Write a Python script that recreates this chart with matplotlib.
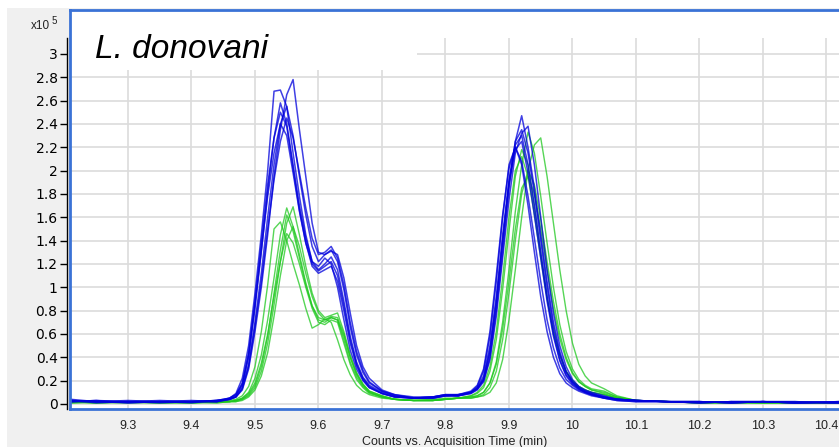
import matplotlib
matplotlib.use("Agg")
import matplotlib.pyplot as plt
from matplotlib.patches import Rectangle
from matplotlib.lines import Line2D

# ---------------- data ----------------
# acquisition time grid (min), split into segments
t_base = [9.21, 9.25, 9.30, 9.35, 9.40, 9.44]
t_peak1 = [9.46, 9.47, 9.48, 9.49, 9.50, 9.51, 9.52, 9.53, 9.54, 9.55, 9.56, 9.57,
           9.58, 9.59, 9.60, 9.61, 9.62, 9.63, 9.64, 9.65, 9.66, 9.67, 9.68]
t_valley = [9.70, 9.72, 9.75, 9.78, 9.80, 9.82]
t_peak2 = [9.84, 9.85, 9.86, 9.87, 9.88, 9.89, 9.90, 9.91, 9.92, 9.93, 9.94, 9.95,
           9.96, 9.97, 9.98, 9.99, 10.00, 10.01, 10.02, 10.03]
t_tail = [10.05, 10.07, 10.10, 10.15, 10.20, 10.25, 10.30, 10.35, 10.42]
time_min = t_base + t_peak1 + t_valley + t_peak2 + t_tail

# counts (x10^5), blue traces
blue_1 = ([0.04, 0.02, 0.01, 0.02, 0.02, 0.03]
          + [0.04, 0.06, 0.12, 0.30, 0.62, 1.00, 1.45, 1.95, 2.35, 2.65, 2.78, 2.35, 1.95, 1.55, 1.30, 1.28, 1.31, 1.28, 1.08, 0.78, 0.50, 0.32, 0.22]
          + [0.12, 0.08, 0.06, 0.06, 0.08, 0.08]
          + [0.10, 0.13, 0.20, 0.40, 0.80, 1.30, 1.85, 2.25, 2.47, 2.20, 1.85, 1.45, 1.05, 0.70, 0.45, 0.28, 0.19, 0.14, 0.11, 0.09]
          + [0.06, 0.04, 0.03, 0.02, 0.02, 0.01, 0.02, 0.02, 0.01])
blue_2 = ([0.03, 0.02, 0.02, 0.01, 0.02, 0.03]
          + [0.05, 0.09, 0.22, 0.50, 0.95, 1.45, 2.00, 2.68, 2.69, 2.55, 2.15, 1.78, 1.45, 1.22, 1.18, 1.25, 1.20, 1.00, 0.72, 0.46, 0.30, 0.20, 0.14]
          + [0.09, 0.06, 0.05, 0.05, 0.07, 0.07]
          + [0.10, 0.15, 0.28, 0.58, 1.05, 1.60, 2.05, 2.20, 2.05, 1.70, 1.30, 0.92, 0.62, 0.40, 0.26, 0.18, 0.14, 0.11, 0.09, 0.07]
          + [0.05, 0.04, 0.03, 0.02, 0.01, 0.02, 0.02, 0.01, 0.02])
blue_3 = ([0.02, 0.03, 0.01, 0.02, 0.03, 0.02]
          + [0.04, 0.07, 0.16, 0.40, 0.82, 1.30, 1.82, 2.28, 2.58, 2.40, 2.05, 1.70, 1.42, 1.22, 1.15, 1.20, 1.26, 1.15, 0.88, 0.58, 0.36, 0.23, 0.16]
          + [0.10, 0.07, 0.05, 0.06, 0.08, 0.07]
          + [0.09, 0.12, 0.19, 0.38, 0.75, 1.25, 1.75, 2.15, 2.32, 2.38, 2.05, 1.60, 1.15, 0.78, 0.50, 0.32, 0.21, 0.15, 0.12, 0.10]
          + [0.07, 0.04, 0.03, 0.02, 0.02, 0.01, 0.02, 0.01, 0.01])
blue_4 = ([0.03, 0.02, 0.02, 0.02, 0.01, 0.03]
          + [0.04, 0.06, 0.14, 0.34, 0.70, 1.12, 1.60, 2.05, 2.40, 2.55, 2.30, 1.95, 1.62, 1.35, 1.22, 1.28, 1.32, 1.22, 0.98, 0.66, 0.42, 0.27, 0.18]
          + [0.11, 0.07, 0.05, 0.06, 0.07, 0.08]
          + [0.11, 0.16, 0.30, 0.62, 1.10, 1.62, 2.02, 2.20, 2.08, 1.78, 1.42, 1.05, 0.72, 0.48, 0.31, 0.21, 0.16, 0.12, 0.10, 0.08]
          + [0.06, 0.04, 0.03, 0.02, 0.01, 0.02, 0.02, 0.01, 0.02])
blue_5 = ([0.02, 0.02, 0.03, 0.02, 0.02, 0.02]
          + [0.05, 0.08, 0.18, 0.44, 0.88, 1.38, 1.88, 2.28, 2.50, 2.38, 2.02, 1.66, 1.38, 1.20, 1.14, 1.18, 1.22, 1.10, 0.84, 0.55, 0.34, 0.22, 0.15]
          + [0.09, 0.06, 0.05, 0.05, 0.07, 0.07]
          + [0.10, 0.14, 0.24, 0.50, 0.92, 1.45, 1.92, 2.22, 2.30, 2.05, 1.70, 1.30, 0.92, 0.60, 0.38, 0.25, 0.18, 0.13, 0.10, 0.08]
          + [0.05, 0.03, 0.02, 0.02, 0.02, 0.01, 0.02, 0.01, 0.02])
blue_6 = ([0.03, 0.01, 0.02, 0.03, 0.02, 0.02]
          + [0.04, 0.06, 0.13, 0.32, 0.66, 1.05, 1.50, 1.92, 2.25, 2.45, 2.28, 1.98, 1.68, 1.42, 1.28, 1.30, 1.35, 1.25, 1.02, 0.70, 0.45, 0.29, 0.19]
          + [0.11, 0.08, 0.05, 0.06, 0.08, 0.08]
          + [0.10, 0.13, 0.21, 0.44, 0.85, 1.38, 1.90, 2.25, 2.35, 2.15, 1.80, 1.40, 1.00, 0.66, 0.42, 0.27, 0.19, 0.14, 0.11, 0.09]
          + [0.06, 0.04, 0.03, 0.02, 0.02, 0.01, 0.02, 0.02, 0.01])
blue_7 = ([0.02, 0.03, 0.02, 0.02, 0.02, 0.03]
          + [0.05, 0.08, 0.17, 0.42, 0.85, 1.32, 1.78, 2.15, 2.40, 2.30, 1.98, 1.65, 1.38, 1.18, 1.12, 1.15, 1.18, 1.05, 0.80, 0.52, 0.33, 0.21, 0.14]
          + [0.09, 0.06, 0.05, 0.05, 0.07, 0.07]
          + [0.09, 0.13, 0.22, 0.46, 0.88, 1.40, 1.88, 2.18, 2.25, 1.98, 1.62, 1.25, 0.88, 0.58, 0.37, 0.24, 0.17, 0.13, 0.10, 0.08]
          + [0.05, 0.03, 0.02, 0.02, 0.01, 0.02, 0.02, 0.01, 0.01])

# counts (x10^5), green traces
green_1 = ([0.02, 0.01, 0.01, 0.02, 0.01, 0.02]
           + [0.02, 0.03, 0.04, 0.07, 0.14, 0.28, 0.52, 0.85, 1.22, 1.55, 1.69, 1.45, 1.18, 0.95, 0.80, 0.74, 0.76, 0.78, 0.62, 0.42, 0.27, 0.17, 0.11]
           + [0.07, 0.04, 0.03, 0.03, 0.04, 0.05]
           + [0.05, 0.06, 0.07, 0.10, 0.18, 0.38, 0.72, 1.15, 1.60, 2.00, 2.22, 2.28, 1.95, 1.55, 1.15, 0.80, 0.52, 0.34, 0.24, 0.18]
           + [0.13, 0.07, 0.03, 0.02, 0.01, 0.01, 0.01, 0.01, 0.01])
green_2 = ([0.01, 0.02, 0.01, 0.01, 0.02, 0.02]
           + [0.02, 0.03, 0.05, 0.10, 0.22, 0.42, 0.72, 1.08, 1.45, 1.68, 1.52, 1.28, 1.04, 0.84, 0.72, 0.70, 0.74, 0.72, 0.55, 0.36, 0.23, 0.15, 0.10]
           + [0.06, 0.04, 0.03, 0.04, 0.05, 0.05]
           + [0.06, 0.07, 0.10, 0.18, 0.36, 0.70, 1.15, 1.65, 2.05, 2.33, 2.15, 1.78, 1.38, 1.00, 0.68, 0.45, 0.30, 0.21, 0.16, 0.13]
           + [0.11, 0.06, 0.03, 0.02, 0.02, 0.01, 0.01, 0.02, 0.01])
green_3 = ([0.02, 0.01, 0.02, 0.01, 0.01, 0.02]
           + [0.03, 0.04, 0.07, 0.15, 0.32, 0.62, 1.02, 1.50, 1.56, 1.40, 1.20, 1.02, 0.82, 0.65, 0.68, 0.73, 0.70, 0.55, 0.38, 0.25, 0.16, 0.11, 0.08]
           + [0.05, 0.04, 0.03, 0.03, 0.04, 0.05]
           + [0.07, 0.09, 0.14, 0.28, 0.55, 0.98, 1.48, 1.95, 2.18, 2.05, 1.70, 1.30, 0.92, 0.62, 0.42, 0.28, 0.20, 0.15, 0.12, 0.10]
           + [0.08, 0.05, 0.03, 0.02, 0.01, 0.02, 0.01, 0.01, 0.01])
green_4 = ([0.01, 0.02, 0.02, 0.01, 0.01, 0.02]
           + [0.02, 0.03, 0.05, 0.09, 0.18, 0.35, 0.60, 0.92, 1.22, 1.46, 1.38, 1.20, 1.00, 0.82, 0.70, 0.68, 0.72, 0.70, 0.52, 0.34, 0.21, 0.14, 0.09]
           + [0.06, 0.04, 0.03, 0.03, 0.04, 0.05]
           + [0.07, 0.10, 0.16, 0.32, 0.62, 1.08, 1.60, 2.00, 2.12, 1.95, 1.62, 1.25, 0.90, 0.62, 0.42, 0.28, 0.20, 0.15, 0.12, 0.10]
           + [0.08, 0.05, 0.03, 0.02, 0.01, 0.01, 0.02, 0.01, 0.01])
green_5 = ([0.02, 0.01, 0.02, 0.02, 0.01, 0.01]
           + [0.02, 0.02, 0.04, 0.08, 0.16, 0.32, 0.58, 0.95, 1.32, 1.62, 1.48, 1.25, 1.02, 0.84, 0.74, 0.72, 0.75, 0.74, 0.60, 0.40, 0.25, 0.16, 0.10]
           + [0.06, 0.04, 0.03, 0.03, 0.04, 0.05]
           + [0.05, 0.06, 0.08, 0.14, 0.28, 0.55, 0.95, 1.40, 1.80, 2.00, 1.88, 1.58, 1.22, 0.88, 0.60, 0.40, 0.27, 0.19, 0.15, 0.12]
           + [0.09, 0.05, 0.03, 0.02, 0.01, 0.01, 0.01, 0.01, 0.01])
green_6 = ([0.01, 0.01, 0.02, 0.01, 0.02, 0.01]
           + [0.02, 0.02, 0.03, 0.06, 0.12, 0.24, 0.44, 0.75, 1.10, 1.40, 1.52, 1.35, 1.12, 0.92, 0.78, 0.72, 0.74, 0.72, 0.58, 0.40, 0.26, 0.17, 0.11]
           + [0.07, 0.04, 0.03, 0.03, 0.04, 0.05]
           + [0.06, 0.07, 0.10, 0.18, 0.34, 0.64, 1.05, 1.50, 1.85, 1.95, 1.80, 1.50, 1.15, 0.82, 0.56, 0.38, 0.26, 0.19, 0.15, 0.12]
           + [0.10, 0.06, 0.03, 0.02, 0.01, 0.02, 0.01, 0.01, 0.01])

blue_traces = [blue_1, blue_2, blue_3, blue_4, blue_5, blue_6, blue_7]
green_traces = [green_1, green_2, green_3, green_4, green_5, green_6]

y_ticks = [0, 0.2, 0.4, 0.6, 0.8, 1, 1.2, 1.4, 1.6, 1.8, 2, 2.2, 2.4, 2.6, 2.8, 3]
x_ticks = [9.3, 9.4, 9.5, 9.6, 9.7, 9.8, 9.9, 10.0, 10.1, 10.2, 10.3, 10.4]
x_tick_labels = ["9.3", "9.4", "9.5", "9.6", "9.7", "9.8", "9.9", "10", "10.1", "10.2", "10.3", "10.4"]
title_text = "L. donovani"
x_label = "Counts vs. Acquisition Time (min)"
y_scale_text = "x10"
y_scale_exp = "5"

# ---------------- figure ----------------
W, H = 839, 447
fig = plt.figure(figsize=(W / 100, H / 100), dpi=100)
fig.patch.set_facecolor("white")
bg = Rectangle((7 / W, 0), 1, (H - 8) / H, transform=fig.transFigure,
               facecolor="#f0f0f0", edgecolor="none", zorder=-10)
fig.patches.append(bg)

ax = fig.add_axes([70 / W, 1 - 409 / H, (W - 70) / W, (409 - 10) / H])
ax.set_zorder(1)
ax.set_facecolor("white")
x0, x1 = 9.2087, 10.4197
y0, y1 = -0.043, 3.376
ax.set_xlim(x0, x1)
ax.set_ylim(y0, y1)

ax.set_axisbelow(True)
ax.grid(True, color="#dcdcdc", linewidth=1.2)
# blank areas (top band and title box)
ax.add_patch(Rectangle((x0, 3.136), x1 - x0, y1 - 3.136, facecolor="white",
                       edgecolor="none", zorder=1))
ax.add_patch(Rectangle((x0, 2.86), 9.755 - x0, y1 - 2.86, facecolor="white",
                       edgecolor="none", zorder=1))

for ys in green_traces:
    ax.plot(time_min, ys, color="#1ec81e", linewidth=1.0, alpha=0.75, zorder=2)
for ys in blue_traces:
    ax.plot(time_min, ys, color="#0000dc", linewidth=1.1, alpha=0.75, zorder=3)

tick_font = dict(family="Liberation Sans", size=9)
ax.set_yticks(y_ticks)
ax.set_yticklabels([("%g" % v) for v in y_ticks], fontdict=tick_font, color="#222222")
ax.set_xticks(x_ticks)
ax.set_xticklabels(x_tick_labels, fontdict=tick_font, color="#222222")
ax.tick_params(axis="x", length=0, pad=8)
ax.tick_params(axis="y", length=5, width=1, color="black", pad=2)

for s in ("top", "bottom"):
    ax.spines[s].set_color("#3a72d6")
    ax.spines[s].set_linewidth(2)
ax.spines["right"].set_visible(False)
ax.spines["left"].set_color("black")
ax.spines["left"].set_linewidth(1)
ax.spines["left"].set_position(("outward", 2))
ax.spines["left"].set_bounds(y0, 3.136)
ax.add_line(Line2D([0, 0], [0, 1], transform=ax.transAxes, color="#3a72d6",
                   linewidth=2, clip_on=False, zorder=5))

ax.set_xlabel(x_label, fontdict=dict(family="Liberation Sans", size=9), color="#222222",
              labelpad=3)

fig.text(50 / W, 1 - 26 / H, y_scale_text, ha="right", va="center",
         family="Liberation Sans", size=8.5, color="#222222", zorder=5)
fig.text(52 / W, 1 - 21 / H, y_scale_exp, ha="left", va="center",
         family="Liberation Sans", size=7, color="#222222", zorder=5)
fig.text(95 / W, 1 - 58 / H, title_text, ha="left", va="baseline",
         family="Liberation Sans", style="italic", size=24, color="black", zorder=5)

fig.savefig("out.png", dpi=100)
